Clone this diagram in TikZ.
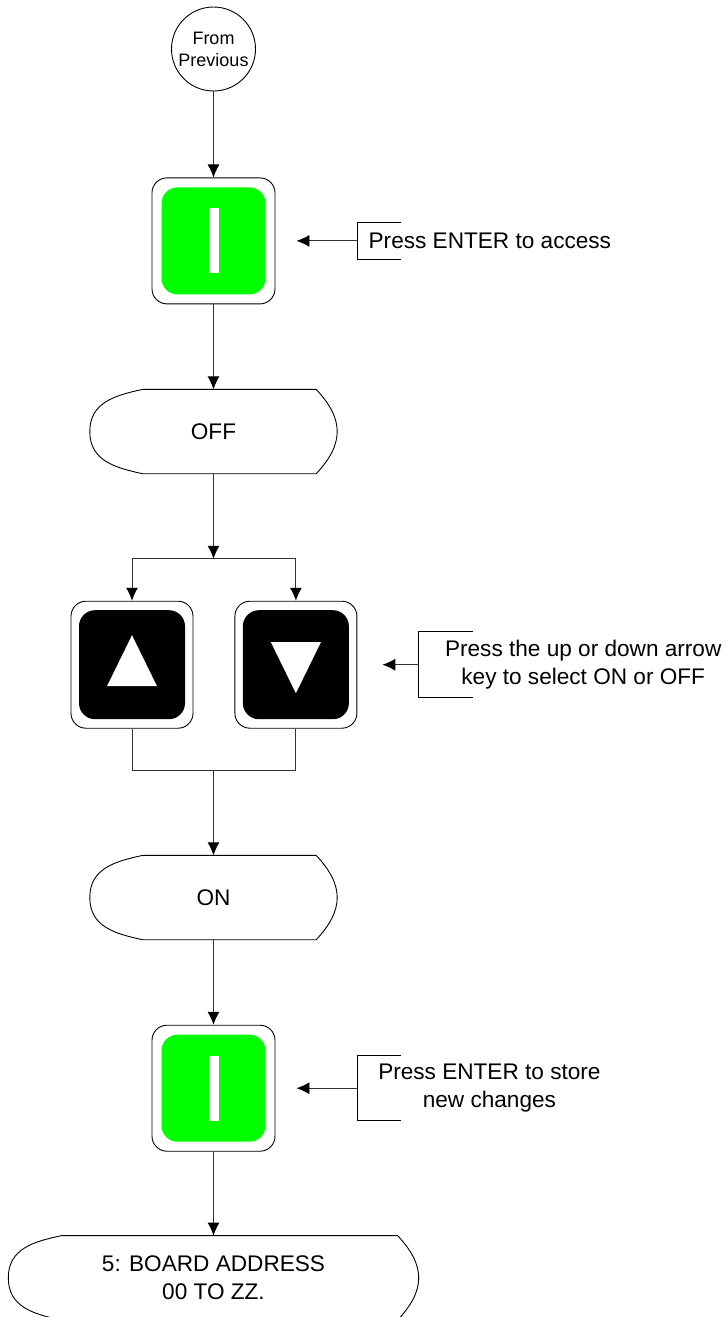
\documentclass[tikz,border=0pt]{standalone}
\usepackage{fontspec}
\setmainfont{Liberation Sans}
\usetikzlibrary{arrows.meta,positioning}
\definecolor{keygreen}{RGB}{0,255,0}

\newcommand{\dispoutline}[1]{%
  \draw[displine] (#1.west)
    .. controls ([yshift=29pt]#1.west) and ([xshift=25pt,yshift=-6pt]#1.north west)
    .. ([xshift=53pt]#1.north west) -- ([xshift=-21pt]#1.north east)
    .. controls ([xshift=7pt,yshift=-30pt]#1.north east) and ([xshift=7pt,yshift=30pt]#1.south east)
    .. ([xshift=-21pt]#1.south east) -- ([xshift=53pt]#1.south west)
    .. controls ([xshift=25pt,yshift=6pt]#1.south west) and ([yshift=-29pt]#1.west)
    .. cycle;}

\begin{document}
\begin{tikzpicture}[
  x=1pt, y=-1pt,
  font=\fontsize{22.6}{28}\selectfont,
  >=Latex,
  displine/.style={draw=black, line width=0.9pt},
  conn/.style={line width=0.9pt, draw=black!80},
  arrow/.style={-{Latex[length=13pt,width=12pt,black]}, line width=0.9pt, draw=black!80},
  startcirc/.style={circle, draw, line width=0.9pt, minimum size=84pt, inner sep=0pt, align=center, font=\fontsize{18}{22}\selectfont},
  display/.style={minimum width=247pt, minimum height=84pt, inner sep=0pt, align=center},
  keybox/.style={draw, line width=0.9pt, rounded corners=15pt, minimum width=123pt, minimum height=126pt, inner sep=0pt, fill=white},
  greenkey/.style={fill=keygreen, rounded corners=16pt, minimum width=104pt, minimum height=107pt, inner sep=0pt},
  blackkey/.style={fill=black, rounded corners=16pt, minimum width=106pt, minimum height=109pt, inner sep=0pt},
  keybar/.style={fill=white, minimum width=10pt, minimum height=65pt, inner sep=0pt},
  note/.style={inner sep=0pt, align=center}
]
\useasboundingbox (0,0) rectangle (726,1317);

% main column
\node[startcirc] (prev) at (213.5,49) {From\\Previous};

\node[keybox, below=86pt of prev] (enter1) {};
\node[greenkey] (enter1face) at (enter1) {};
\node[keybar] (enter1bar) at (enter1) {};

\node[display, below=85pt of enter1] (off) {OFF};
\dispoutline{off}
\coordinate[below=85pt of off] (split);

% arrow keys
\node[keybox, minimum width=122pt, minimum height=127pt, below=127pt of off, xshift=-81.5pt] (upkey) {};
\node[blackkey] (upface) at (upkey) {};
\fill[white] ([shift={(0,-29.5)}]upkey.center) -- ([shift={(25,21.5)}]upkey.center) -- ([shift={(-25,21.5)}]upkey.center) -- cycle;

\node[keybox, minimum width=122pt, minimum height=127pt, right=41pt of upkey] (downkey) {};
\node[blackkey] (downface) at (downkey) {};
\fill[white] ([shift={(-25,-22.5)}]downkey.center) -- ([shift={(25,-22.5)}]downkey.center) -- ([shift={(0,28.5)}]downkey.center) -- cycle;

\coordinate[below=42pt of upkey, xshift=81.5pt] (merge);

\node[display, below=126.7pt of upkey, xshift=81.5pt] (on) {ON};
\dispoutline{on}

\node[keybox, below=85pt of on] (enter2) {};
\node[greenkey] (enter2face) at (enter2) {};
\node[keybar] (enter2bar) at (enter2) {};

\node[display, minimum width=410pt, below=84pt of enter2] (board) {5: BOARD ADDRESS\\00 TO ZZ.};
\dispoutline{board}

% callouts
\node[note, right=93pt of enter1] (note1) {Press ENTER to access};
\coordinate[right=82pt of enter1] (b1);
\draw[displine] ([shift={(44,-18.5)}]b1) -| (b1) |- ([shift={(44,18.5)}]b1);

\node[note, right=87.5pt of downkey] (note2) {Press the up or down arrow\\key to select ON or OFF};
\coordinate[right=61.3pt of downkey] (b2);
\draw[displine] ([shift={(54.4,-33)}]b2) -| (b2) |- ([shift={(54.4,33)}]b2);

\node[note, right=102.6pt of enter2] (note3) {Press ENTER to store\\new changes};
\coordinate[right=81.7pt of enter2] (b3);
\draw[displine] ([shift={(44,-32.5)}]b3) -| (b3) |- ([shift={(44,32.5)}]b3);

% connectors
\draw[arrow] (prev) -- (enter1);
\draw[arrow] (enter1) -- (off);
\draw[arrow] (off) -- (split);
\draw[arrow] (split) -| (upkey);
\draw[arrow] (split) -| (downkey);
\draw[conn] (upkey) |- (merge);
\draw[conn] (downkey) |- (merge);
\draw[arrow] (merge) -- (on);
\draw[arrow] (on) -- (enter2);
\draw[arrow] (enter2) -- (board);

\draw[arrow] (b1) -- ([xshift=21pt]enter1.east);
\draw[arrow] (b2) -- ([xshift=25pt]downkey.east);
\draw[arrow] (b3) -- ([xshift=21pt]enter2.east);

\end{tikzpicture}
\end{document}
